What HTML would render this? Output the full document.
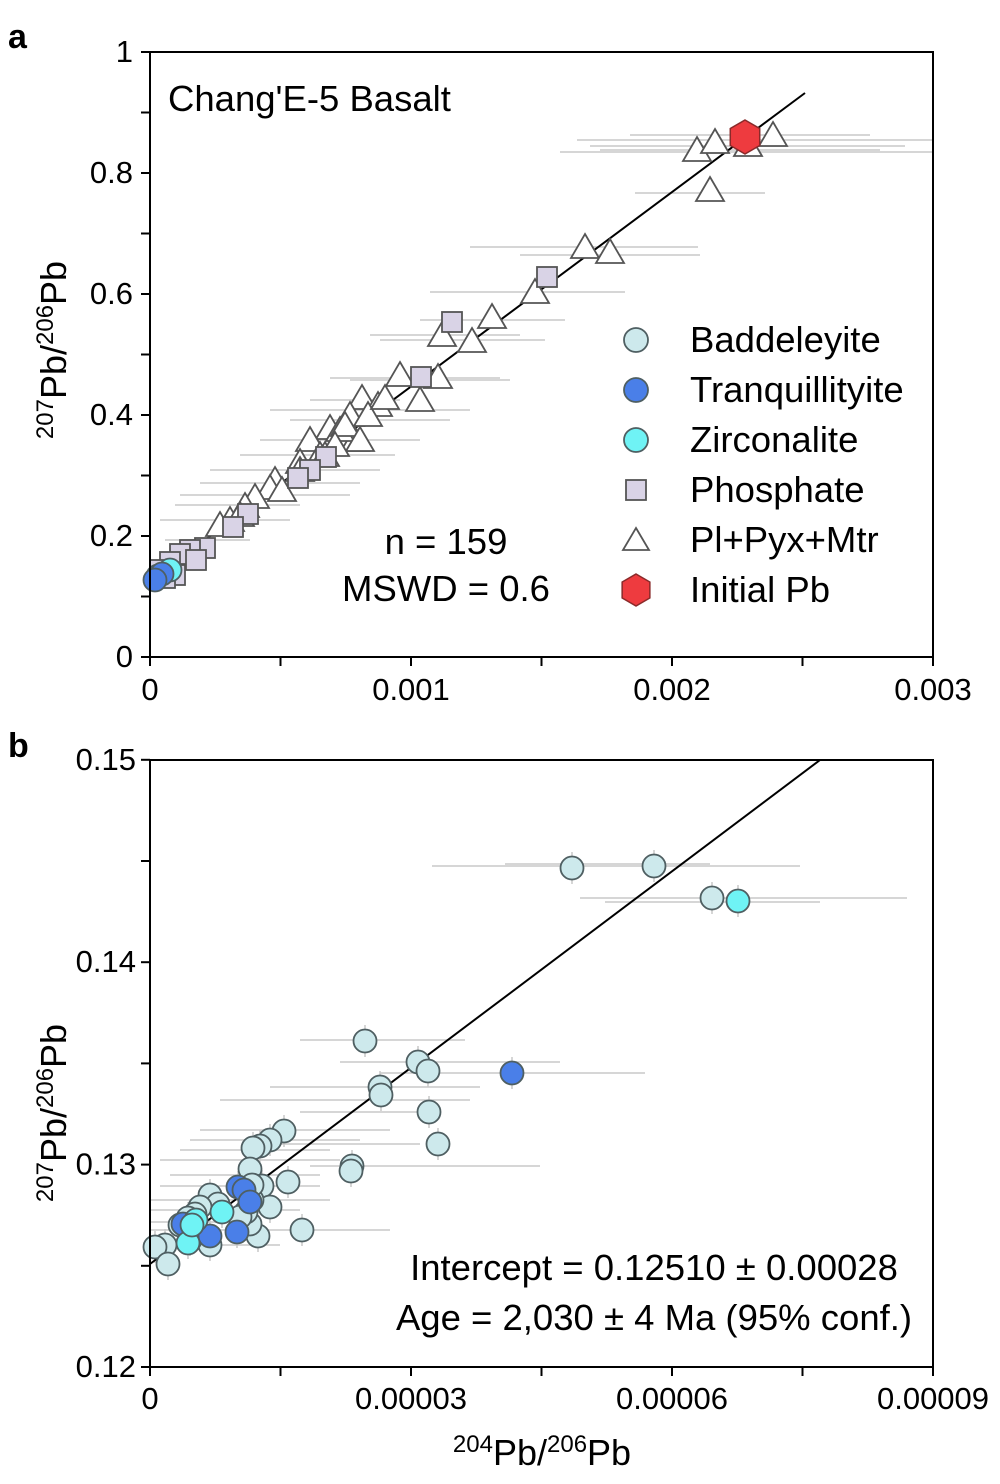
<!DOCTYPE html>
<html><head><meta charset="utf-8"><style>
html,body{margin:0;padding:0;background:#fff}
svg{display:block;font-family:"Liberation Sans",Arial,sans-serif}
</style></head><body>
<svg id="s" width="1000" height="1484" viewBox="0 0 1000 1484" xmlns="http://www.w3.org/2000/svg">
<rect width="1000" height="1484" fill="#fff"/>
<g id="eb" stroke="#c8c8c8" stroke-width="1.5"></g>
<g id="lines"></g>
<g id="pts"></g>
<g id="ax" fill="none" stroke="#000" stroke-width="2"></g>
<g id="txt" font-size="31" fill="#000"></g>
</svg>
<script>
const NS="http://www.w3.org/2000/svg";
function el(p,t,a,txt){const e=document.createElementNS(NS,t);for(const k in a)e.setAttribute(k,a[k]);if(txt!==undefined)e.textContent=txt;document.getElementById(p).appendChild(e);return e;}
const C={b:"#cde9ec",t:"#4a7fe8",z:"#6ff3f5",p:"#d9d3e6",h:"#ee3b3f"};
function circ(x,y,c,r){el("pts","circle",{cx:x,cy:y,r:r||11.5,fill:C[c],stroke:"#4f5f62","stroke-width":1.8});}
function sq(x,y){el("pts","rect",{x:x-10,y:y-10,width:20,height:20,fill:C.p,stroke:"#555","stroke-width":1.8});}
function tri(x,y){el("pts","polygon",{points:`${x},${y-13} ${x+14},${y+11} ${x-14},${y+11}`,fill:"#fff",stroke:"#555","stroke-width":1.8});}
function hex(x,y,r){let p=[];for(let i=0;i<6;i++){const a=Math.PI/3*i-Math.PI/2;p.push((x+r*Math.cos(a))+","+(y+r*Math.sin(a)));}el("pts","polygon",{points:p.join(" "),fill:C.h,stroke:"#8a2a2a","stroke-width":1.5});}
function hb(x1,x2,y){el("eb","line",{x1:x1,x2:x2,y1:y,y2:y});}
function vb(x,y1,y2){el("eb","line",{x1:x,x2:x,y1:y1,y2:y2});}
el("ax","rect",{x:150,y:52,width:783,height:605});
el("ax","rect",{x:150,y:760,width:783,height:607});
for(let i=0;i<=6;i++){const x=150+i*130.5;el("ax","line",{x1:x,x2:x,y1:657,y2:666});}
for(let i=0;i<=10;i++){const y=657-i*60.5;el("ax","line",{x1:141,x2:150,y1:y,y2:y});}
for(let i=0;i<=6;i++){const x=150+i*130.5;el("ax","line",{x1:x,x2:x,y1:1367,y2:1376});}
for(let i=0;i<=6;i++){const y=1367-i*101.2;el("ax","line",{x1:141,x2:150,y1:y,y2:y});}
[["0",0],["0.2",0.2],["0.4",0.4],["0.6",0.6],["0.8",0.8],["1",1]].forEach(([t,v])=>el("txt","text",{x:133,y:657-v*605+10,"text-anchor":"end"},t));
[["0",150],["0.001",411],["0.002",672],["0.003",933]].forEach(([t,x])=>el("txt","text",{x:x,y:700,"text-anchor":"middle"},t));
[["0.12",1367],["0.13",1164.6],["0.14",962.2],["0.15",760]].forEach(([t,y])=>el("txt","text",{x:136,y:y+10,"text-anchor":"end"},t));
[["0",150],["0.00003",411],["0.00006",672],["0.00009",933]].forEach(([t,x])=>el("txt","text",{x:x,y:1409,"text-anchor":"middle"},t));
el("txt","text",{x:8,y:48,"font-size":34,"font-weight":"bold"},"a");
el("txt","text",{x:8,y:757,"font-size":34,"font-weight":"bold"},"b");
function ytitle(cy){const t=el("txt","text",{transform:`translate(66,${cy}) rotate(-90)`,"text-anchor":"middle","font-size":36});
 t.innerHTML='<tspan font-size="24" dy="-13">207</tspan><tspan dy="13">Pb/</tspan><tspan font-size="24" dy="-13">206</tspan><tspan dy="13">Pb</tspan>';}
ytitle(350);ytitle(1113);
{const t=el("txt","text",{x:542,y:1465,"text-anchor":"middle","font-size":36});
 t.innerHTML='<tspan font-size="24" dy="-13">204</tspan><tspan dy="13">Pb/</tspan><tspan font-size="24" dy="-13">206</tspan><tspan dy="13">Pb</tspan>';}
el("txt","text",{x:168,y:111,"font-size":36.5},"Chang'E-5 Basalt");
el("txt","text",{x:446,y:554,"font-size":36.5,"text-anchor":"middle"},"n = 159");
el("txt","text",{x:446,y:601,"font-size":36.5,"text-anchor":"middle"},"MSWD = 0.6");
el("txt","text",{x:654,y:1280,"font-size":36.5,"text-anchor":"middle"},"Intercept = 0.12510 ± 0.00028");
el("txt","text",{x:654,y:1330,"font-size":36.5,"text-anchor":"middle"},"Age = 2,030 ± 4 Ma (95% conf.)");
const L=[["Baddeleyite","b"],["Tranquillityite","t"],["Zirconalite","z"],["Phosphate","p"],["Pl+Pyx+Mtr","tri"],["Initial Pb","h"]];
el("lines","line",{x1:150,y1:581,x2:805,y2:93,stroke:"#000","stroke-width":2});
el("lines","line",{x1:150,y1:1264,x2:820,y2:760,stroke:"#000","stroke-width":2});
[[577,933,140],[590,905,146],[600,880,150],[560,933,152],[630,870,135],[635,765,193],[470,698,247],[520,700,255],[430,625,292],[420,565,320],[380,545,340],[370,520,335],[350,510,380],[330,500,378],[310,400,400],[270,470,410],[290,450,420],[260,420,440],[240,395,455],[210,380,470],[200,360,483],[180,350,495],[175,300,505],[160,290,520],[165,250,540]].forEach(a=>hb(a[0],a[1],a[2]));
[[697,150],[715,142],[748,145],[773,135],[710,190],[585,247],[610,252],[535,292],[492,317],[472,341],[442,335],[438,377],[400,375],[420,400],[362,398],[378,405],[350,415],[330,428],[355,440],[310,440],[320,455],[300,462],[275,480],[270,488],[282,490],[255,497],[245,506],[230,520],[220,525],[240,515],[340,430],[325,455],[345,425],[360,440],[368,415],[335,445],[385,398],[300,470]].forEach(p=>tri(p[0],p[1]));
[[547,277],[452,322],[421,377],[326,457],[310,470],[298,478],[248,514],[233,527],[205,548],[190,550],[180,554],[196,560],[170,562],[160,570],[175,575],[165,578]].forEach(p=>sq(p[0],p[1]));
circ(158,576,"b");circ(170,570,"z");circ(162,574,"t");circ(155,580,"t");
hex(745,137,17);
L.forEach((l,i)=>{const y=340+i*50;
 if(l[1]==="tri")el("pts","polygon",{points:`636,${y-12} 649,${y+10} 623,${y+10}`,fill:"#fff",stroke:"#555","stroke-width":1.8});
 else if(l[1]==="p")el("pts","rect",{x:626,y:y-10,width:20,height:20,fill:C.p,stroke:"#555","stroke-width":1.8});
 else if(l[1]==="h")hex(636,y,16);
 else circ(636,y,l[1],12);
 el("txt","text",{x:690,y:y+12,"font-size":36.5},l[0]);});
[[432,800,866],[505,710,864],[580,907,898],[605,820,902],[300,465,1040],[340,560,1062],[380,645,1073],[270,480,1087],[220,470,1100],[300,430,1112],[270,420,1144],[310,540,1166],[200,390,1130],[190,360,1140],[180,330,1150],[160,340,1160],[170,320,1175],[160,320,1186],[150,330,1200],[150,300,1210],[150,390,1230],[150,280,1245],[150,260,1222]].forEach(a=>hb(a[0],a[1],a[2]));
const bp=[[572,868],[654,866],[712,898],[365,1041],[418,1062],[428,1071],[380,1087],[381,1095],[429,1112],[438,1144],[352,1166],[351,1171],[284,1131],[270,1140],[260,1146],[253,1148],[250,1169],[262,1186],[288,1182],[302,1230],[270,1207],[258,1236],[250,1224],[246,1212],[210,1195],[218,1204],[200,1207],[195,1214],[188,1218],[180,1225],[165,1245],[155,1247],[168,1264],[210,1245],[190,1240],[240,1217],[252,1200],[252,1185]];
bp.forEach(p=>vb(p[0],p[1]-16,p[1]+16));
bp.forEach(p=>circ(p[0],p[1],"b"));
[[512,1073],[238,1187],[244,1190],[250,1202],[237,1232],[210,1236],[183,1224]].forEach(p=>{vb(p[0],p[1]-16,p[1]+16);circ(p[0],p[1],"t");});
[[738,901],[222,1212],[196,1220],[188,1243],[192,1225]].forEach(p=>{vb(p[0],p[1]-16,p[1]+16);circ(p[0],p[1],"z");});
</script>
</body></html>
